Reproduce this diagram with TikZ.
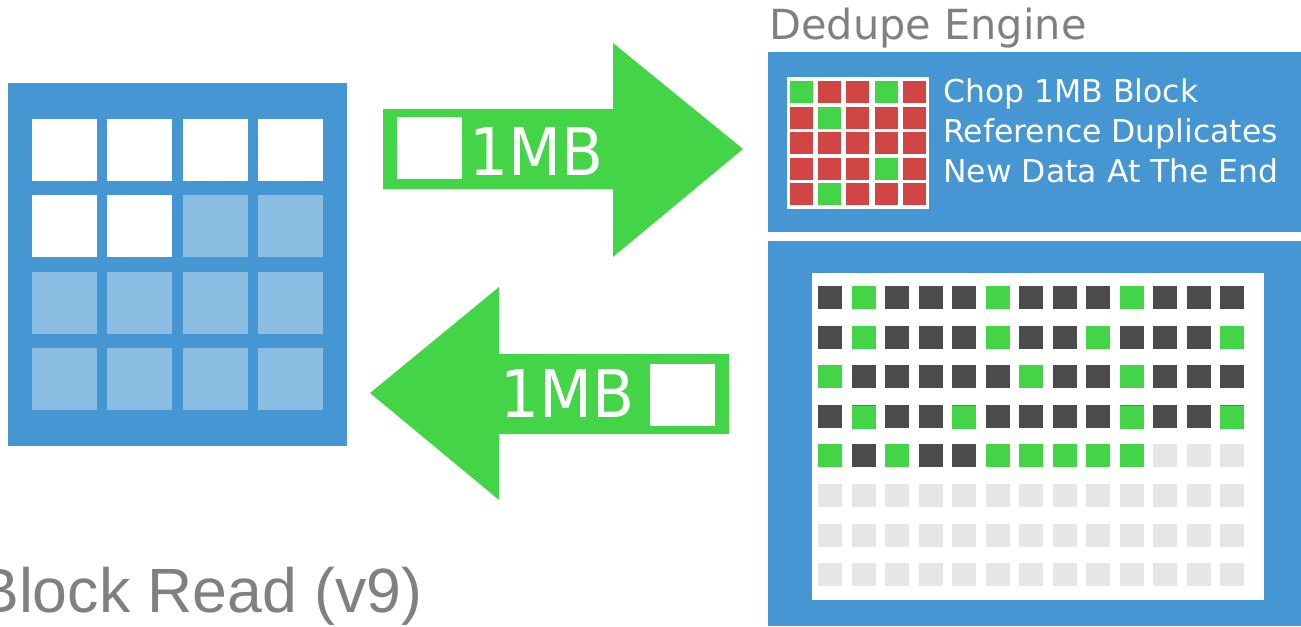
\documentclass[tikz,border=0pt]{standalone}
\usepackage{fontspec}
\setmainfont{DejaVu Sans}
\newfontfamily\narrowfont{DejaVu Sans}[FakeStretch=0.93]
\newfontfamily\arialfont{Liberation Sans}

\definecolor{boxblue}{HTML}{4596D2}
\definecolor{paleblue}{HTML}{8BBDE2}
\definecolor{arrowgreen}{HTML}{44D448}
\definecolor{cellg}{HTML}{44D448}
\definecolor{cellr}{HTML}{D24545}
\definecolor{celld}{HTML}{4B4B4B}
\definecolor{celll}{HTML}{E6E6E6}
\definecolor{titlegray}{HTML}{808080}

\begin{document}
\begin{tikzpicture}[x=0.02cm,y=-0.02cm]
        \tikzstyle{mbtext} = [text=white, inner sep=0pt, anchor=base west, font=\narrowfont\fontsize{37.5}{40}\selectfont]
        \tikzstyle{engtext} = [text=white, inner sep=0pt, anchor=base west, font=\fontsize{17.9}{22}\selectfont]
        \tikzstyle{titletext} = [text=titlegray, inner sep=0pt, anchor=base west]

        \useasboundingbox (0,0) rectangle (1301,626);

        % Left block being read
        \fill[boxblue] (8,83) rectangle (347,446);
        \foreach \r in {0,...,3}
          \foreach \c in {0,...,3} {
            \pgfmathtruncatemacro{\k}{4*\r+\c}
            \ifnum\k<6 \def\cellcol{white}\else \def\cellcol{paleblue}\fi
            \fill[\cellcol] ({32+75.3*\c},{119+76.3*\r}) rectangle ++(65,62);
          }
        \node[titletext, font=\arialfont\fontsize{35.6}{40}\selectfont] (blockread) at (-23,612) {Block Read (v9)};

        % Arrow to the engine
        \fill[arrowgreen] (383,109) -- (613,109) -- (613,43) -- (743,149) -- (613,257) -- (613,189) -- (383,189) -- cycle;
        \fill[white] (397,117) rectangle (462,179);
        \node[mbtext] (sendmb) at (469,175) {1MB};

        % Arrow back from the engine
        \fill[arrowgreen] (729,354) -- (499,354) -- (499,287) -- (370,393) -- (499,500) -- (499,434) -- (729,434) -- cycle;
        \fill[white] (650,364) rectangle (715,426);
        \node[mbtext] (backmb) at (500,417) {1MB};

        % Dedupe engine
        \node[titletext, font=\fontsize{23.6}{28}\selectfont] (engine) at (769,39) {Dedupe Engine};
        \fill[boxblue] (768,52) rectangle (1301,232);
        \fill[white] (787,77) rectangle (929,209);
        \foreach \row [count=\j from 0] in {{g,r,r,g,r},{r,g,r,r,r},{r,r,r,r,r},{r,r,r,g,r},{r,g,r,r,r}}
          \foreach \c [count=\i from 0] in \row
            \fill[cell\c] ({790+28.2*\i},{81+25.5*\j}) rectangle ++(23,22);
        \node[engtext] (chop) at (943,102) {Chop 1MB Block};
        \node[engtext] (refdup) at (943,142) {Reference Duplicates};
        \node[engtext] (newdata) at (943,182) {New Data At The End};

        % Storage layout
        \fill[boxblue] (768,241) rectangle (1301,626);
        \fill[white] (812,273) rectangle (1264,600);
        \foreach \row [count=\j from 0] in {
            {d,g,d,d,d,g,d,d,d,g,d,d,d},
            {d,g,d,d,d,g,d,d,g,d,d,d,g},
            {g,d,d,d,d,d,g,d,d,g,d,d,d},
            {d,g,d,d,g,d,d,d,d,g,d,d,g},
            {g,d,g,d,d,g,g,g,g,g,l,l,l},
            {l,l,l,l,l,l,l,l,l,l,l,l,l},
            {l,l,l,l,l,l,l,l,l,l,l,l,l},
            {l,l,l,l,l,l,l,l,l,l,l,l,l}}
          \foreach \c [count=\i from 0] in \row
            \fill[cell\c] ({818+33.5*\i},{286+39.6*\j}) rectangle ++(24,23);
        % red edge on the rewritten cells
        \foreach \i in {1,4,9,12} {
            \fill[cellg] ({818+33.5*\i},{286+39.6*3}) rectangle ++(24,24);
            \fill[cellr] ({818+33.5*\i},{286+39.6*3}) rectangle ++(24,1);
        }
\end{tikzpicture}
\end{document}
